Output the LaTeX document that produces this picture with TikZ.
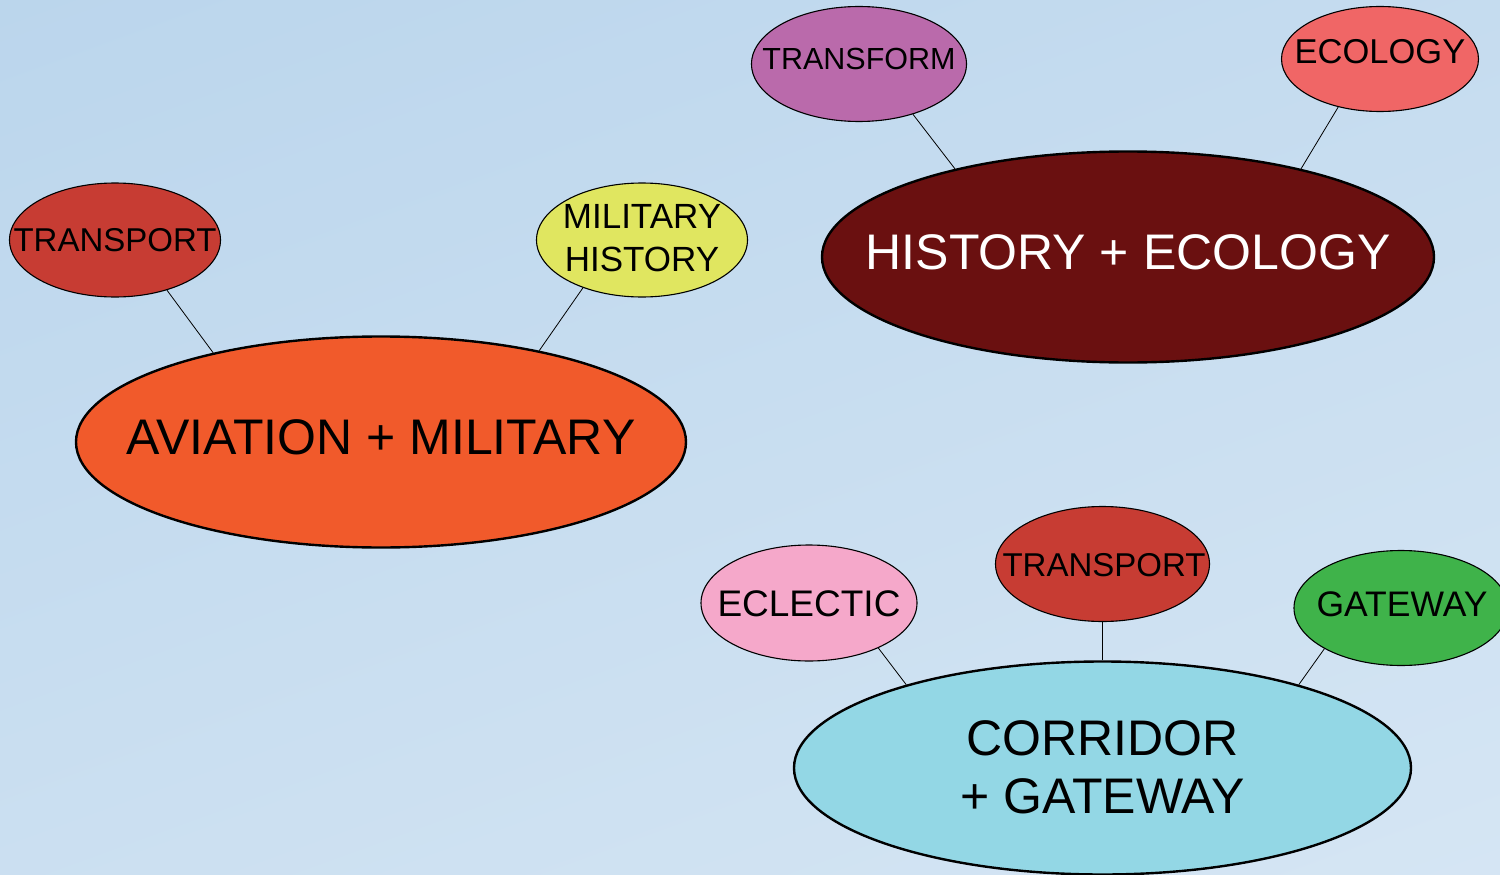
\documentclass[tikz,border=0pt]{standalone}
\usepackage{fontspec}
\setmainfont{Liberation Sans}
\usetikzlibrary{shapes.geometric}
\definecolor{bgtop}{RGB}{186,213,236}
\definecolor{bgbot}{RGB}{214,230,244}
\definecolor{cAvi}{RGB}{241,90,43}
\definecolor{cHist}{RGB}{106,16,16}
\definecolor{cCorr}{RGB}{147,215,229}
\definecolor{cTrans}{RGB}{199,60,51}
\definecolor{cMil}{RGB}{224,230,96}
\definecolor{cTform}{RGB}{186,106,171}
\definecolor{cEco}{RGB}{240,102,102}
\definecolor{cEcl}{RGB}{245,168,202}
\definecolor{cGate}{RGB}{63,179,74}
\tikzset{
  bubble/.style={ellipse, draw=black, inner sep=0pt, line width=1.1pt},
  bigbubble/.style={ellipse, draw=black, inner sep=0pt, line width=2.4pt,
     minimum width=612, minimum height=212},
  smalltxt/.style={font=\fontsize{33}{38}\selectfont, align=center, inner sep=0pt},
  bigtxt/.style={font=\fontsize{50}{58}\selectfont, align=center, inner sep=0pt},
  link/.style={draw=black, line width=0.8pt}
}
\begin{document}
\begin{tikzpicture}[x=1pt,y=-1pt]
\useasboundingbox (0,0) rectangle (1500,875);
\clip (0,0) rectangle (1500,875);
\shade[shading=axis, top color=bgtop, bottom color=bgbot, shading angle=20] (-200,-200) rectangle (1700,1075);

% main ellipses
\node[bigbubble, fill=cAvi, minimum width=610, minimum height=211] (avi) at (381,442) {};
\node[bigtxt] at ([yshift=5]avi.center) {AVIATION + MILITARY};
\node[bigbubble, fill=cHist, minimum width=612, minimum height=211] (hist) at (1128,257) {};
\node[bigtxt, text=white] at ([yshift=5]hist.center) {HISTORY + ECOLOGY};
\node[bigbubble, fill=cCorr, minimum width=617, minimum height=213] (corr) at (1102.5,768) {};
\node[bigtxt] at ([yshift=1]corr.center) {CORRIDOR\\+ GATEWAY};

% satellites
\node[bubble, fill=cTrans, minimum width=211, minimum height=114] (t1) at (115,240) {};
\node[smalltxt] at (t1) {TRANSPORT};
\node[bubble, fill=cMil, minimum width=211, minimum height=114] (mil) at (642,240) {};
\node[smalltxt, font=\fontsize{35}{43}\selectfont] at ([yshift=2]mil.center) {MILITARY\\HISTORY};
\node[bubble, fill=cTform, minimum width=215, minimum height=115] (tf) at (859,64) {};
\node[smalltxt, font=\fontsize{30.5}{36}\selectfont] at ([yshift=5]tf.center) {TRANSFORM};
\node[bubble, fill=cEco, minimum width=197, minimum height=105] (eco) at (1380,59) {};
\node[smalltxt, font=\fontsize{34.5}{40}\selectfont] at ([yshift=7]eco.center) {ECOLOGY};
\node[bubble, fill=cEcl, minimum width=216, minimum height=116] (ecl) at (809,603) {};
\node[smalltxt, font=\fontsize{37}{42}\selectfont] at ([yshift=-1]ecl.center) {ECLECTIC};
\node[bubble, fill=cTrans, minimum width=214, minimum height=115] (t2) at (1102.5,564) {};
\node[smalltxt] at ([xshift=1.5,yshift=-1]t2.center) {TRANSPORT};
\node[bubble, fill=cGate, minimum width=214, minimum height=115] (gate) at (1401,608) {};
\node[smalltxt, font=\fontsize{35.5}{40}\selectfont] at ([xshift=1,yshift=4]gate.center) {GATEWAY};

% connectors
\draw[link] (t1.-44) -- (avi.152);
\draw[link] (mil.219) -- (avi.30.5);
\draw[link] (tf.-43) -- (hist.153);
\draw[link] (eco.-131) -- (hist.27.4);
\draw[link] (ecl.-33) -- (corr.157.3);
\draw[link] (t2.south) -- (corr.north);
\draw[link] (gate.-152.5) -- (corr.23.5);
\end{tikzpicture}
\end{document}
